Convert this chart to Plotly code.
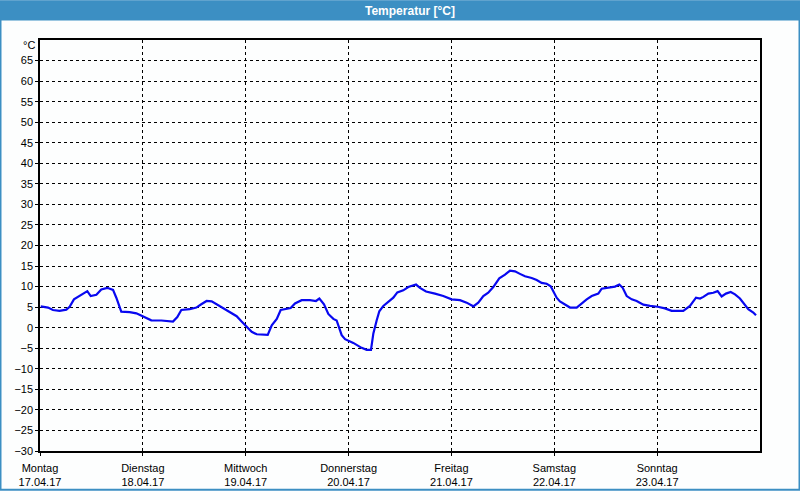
import plotly.graph_objects as go

# Time in days since Monday 17.04.17 00:00, temperature in °C
days = [0.007, 0.078, 0.126, 0.19, 0.256, 0.288, 0.33, 0.386, 0.428, 0.46, 0.493, 0.548,
        0.596, 0.654, 0.71, 0.742, 0.79, 0.872, 0.937, 1.011, 1.082, 1.18, 1.293, 1.335,
        1.374, 1.455, 1.52, 1.568, 1.62, 1.669, 1.718, 1.782, 1.847, 1.912, 1.96, 2.009,
        2.058, 2.107, 2.155, 2.214, 2.253, 2.302, 2.34, 2.398, 2.437, 2.479, 2.544, 2.625,
        2.683, 2.716, 2.761, 2.803, 2.852, 2.884, 2.933, 2.966, 3.046, 3.127, 3.176, 3.218,
        3.241, 3.273, 3.299, 3.338, 3.386, 3.435, 3.474, 3.532, 3.581, 3.656, 3.694, 3.753,
        3.84, 3.921, 4.002, 4.083, 4.148, 4.213, 4.261, 4.31, 4.358, 4.407, 4.465, 4.521,
        4.569, 4.618, 4.666, 4.715, 4.78, 4.829, 4.877, 4.926, 4.965, 4.99, 5.023, 5.055,
        5.104, 5.153, 5.218, 5.266, 5.315, 5.364, 5.428, 5.461, 5.526, 5.59, 5.632, 5.665,
        5.704, 5.753, 5.801, 5.866, 5.931, 6.005, 6.076, 6.141, 6.254, 6.319, 6.378, 6.417,
        6.449, 6.498, 6.546, 6.588, 6.627, 6.669, 6.715, 6.757, 6.805, 6.844, 6.886, 6.935,
        6.961]
temps = [5.2, 4.9, 4.3, 4.1, 4.4, 5.1, 6.9, 7.7, 8.3, 8.9, 7.7, 8.0,
         9.3, 9.7, 9.2, 7.3, 3.9, 3.8, 3.5, 2.7, 1.8, 1.75, 1.5, 2.6,
         4.3, 4.5, 4.9, 5.7, 6.5, 6.4, 5.7, 4.7, 3.7, 2.8, 1.5, 0.16,
         -1.0, -1.6, -1.75, -1.75, 0.56, 2.15, 4.3, 4.5, 4.8, 5.9, 6.7, 6.7,
         6.5, 7.1, 5.7, 3.35, 2.15, 1.75, -1.8, -2.8, -3.7, -4.9, -5.4, -5.4,
         -1.4, 1.75, 4.0, 5.3, 6.4, 7.3, 8.6, 9.1, 9.9, 10.5, 9.7, 8.8,
         8.3, 7.7, 6.9, 6.7, 6.1, 5.2, 6.1, 7.7, 8.5, 9.9, 12.0, 12.9,
         13.9, 13.7, 13.1, 12.5, 12.1, 11.6, 10.9, 10.7, 10.1, 8.8, 7.3, 6.4,
         5.7, 4.9, 4.9, 5.9, 6.9, 7.7, 8.3, 9.5, 9.7, 10.0, 10.5, 9.7,
         7.7, 6.9, 6.5, 5.6, 5.3, 5.1, 4.7, 4.1, 4.1, 5.3, 7.3, 7.1,
         7.5, 8.3, 8.5, 8.9, 7.6, 8.3, 8.7, 8.1, 7.1, 5.7, 4.5, 3.7,
         3.0]

day_ticks = [0, 1, 2, 3, 4, 5, 6]
day_names = ["Montag", "Dienstag", "Mittwoch", "Donnerstag", "Freitag", "Samstag", "Sonntag"]
day_dates = ["17.04.17", "18.04.17", "19.04.17", "20.04.17", "21.04.17", "22.04.17", "23.04.17"]
y_ticks = list(range(-30, 70, 5))

title_text = "Temperatur [°C]"
unit_text = "°C"

FONT = "Liberation Sans, Arial, sans-serif"

fig = go.Figure()
fig.add_trace(go.Scatter(x=days, y=temps, mode="lines",
                         line=dict(color="#0808f0", width=2.2), hoverinfo="skip"))

fig.update_layout(
    width=800, height=500,
    margin=dict(l=40, r=40, t=40, b=40),
    paper_bgcolor="#fdfefe", plot_bgcolor="#fdfefe",
    showlegend=False,
    font=dict(family=FONT, size=11, color="black"),
    xaxis=dict(range=[0, 7], tickvals=day_ticks,
               ticktext=[f"{n}<br>{d}" for n, d in zip(day_names, day_dates)],
               showgrid=True, gridcolor="black", griddash="3px,3px", gridwidth=1,
               showline=True, linecolor="black", linewidth=1.5, mirror=True,
               ticks="outside", ticklen=3, tickcolor="black", zeroline=False,
               ticklabelstandoff=3,
               tickfont=dict(family=FONT, size=11, color="black")),
    yaxis=dict(range=[-30, 70], tickvals=y_ticks,
               showgrid=True, gridcolor="black", griddash="3px,3px", gridwidth=1,
               showline=True, linecolor="black", linewidth=1.5, mirror=True,
               ticks="outside", ticklen=3, tickcolor="black", zeroline=False,
               tickfont=dict(family=FONT, size=11, color="black")),
)

# title bar
fig.add_shape(type="rect", xref="paper", yref="paper",
              x0=-40/720, x1=760/720, y0=440/420, y1=460/420,
              fillcolor="#3c8fc3", line=dict(width=0), layer="above")
# outer border
fig.add_shape(type="rect", xref="paper", yref="paper",
              x0=-39.5/720, x1=759.5/720, y0=-39.5/420, y1=459.5/420,
              line=dict(color="#3c8fc3", width=2), fillcolor="rgba(0,0,0,0)")
fig.add_annotation(text=f"<b>{title_text}</b>", xref="paper", yref="paper",
                   x=370/720, y=450/420, xanchor="center", yanchor="middle",
                   showarrow=False, font=dict(family=FONT, size=12, color="white"))
fig.add_annotation(text=unit_text, xref="paper", yref="y", x=-3/720, y=70,
                   xanchor="right", yanchor="middle", yshift=-5, showarrow=False,
                   font=dict(family=FONT, size=11, color="black"))

fig.write_html("out.html")
